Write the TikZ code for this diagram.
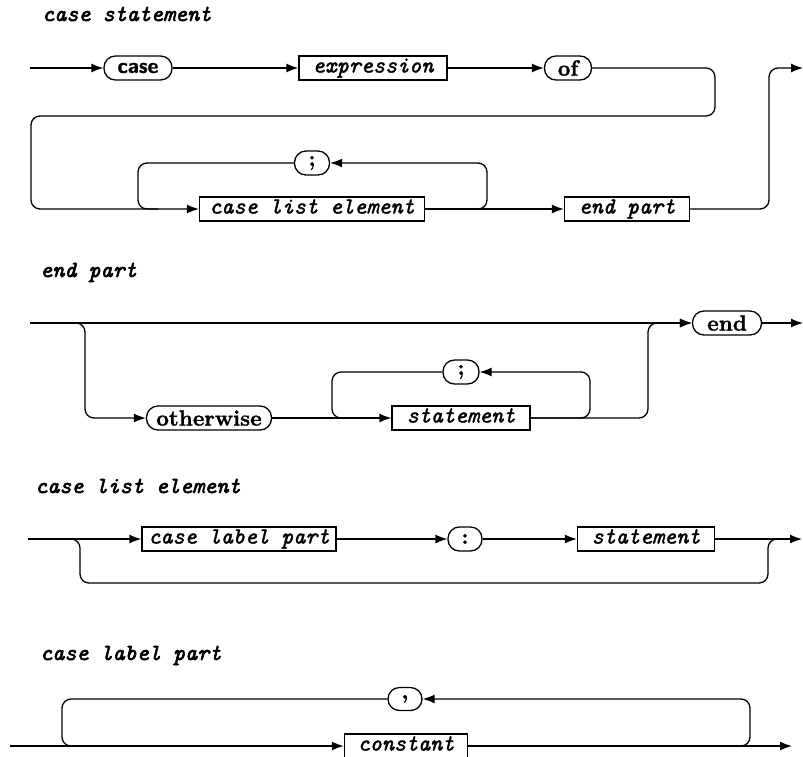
\documentclass[tikz,border=0pt]{standalone}
\usepackage{fontspec}
\usetikzlibrary{arrows.meta}
\newfontfamily\catfont{lmmono10-italic.otf}[FakeBold=1.6]
\newfontfamily\titfont{lmmono10-italic.otf}[FakeBold=2.6]
\newfontfamily\kwfont{lmroman10-bold.otf}[FakeBold=1.2]
\newfontfamily\kwsans{lmsans10-bold.otf}[FakeBold=1.2]

\begin{document}
\begin{tikzpicture}[x=1pt, y=-1pt,
  wire/.style={line width=1.3pt, rounded corners=9pt},
  freccia/.style={-{Latex[length=12pt,width=9pt]}},
  titolo/.style={anchor=base west, inner sep=0pt, font=\titfont\fontsize{23}{23}\selectfont},
  simbolo/.style={draw, line width=1.3pt, rounded corners=11.5pt, minimum height=24pt,
    inner xsep=2pt, inner ysep=0pt, font=\kwfont\fontsize{22}{22}\selectfont},
  categoria/.style={draw, line width=1.3pt, rectangle, minimum height=24pt, inner xsep=3pt,
    inner ysep=0pt, text height=13pt, text depth=4pt, font=\catfont\fontsize{23}{23}\selectfont}]
\useasboundingbox (0,0) rectangle (803,756);

% case statement
\node[titolo] (t1) at (42,21) {case statement};
\coordinate (s1) at (30,68);
\coordinate (e1) at (803,68);
\node[simbolo, minimum width=68pt, font=\kwsans\fontsize{21}{21}\selectfont] (case) at (138,68) {case};
\node[categoria, minimum width=148pt] (expr) at (373,68) {expression};
\node[simbolo, minimum width=47pt] (of) at (568,68) {of};
\node[categoria, minimum width=225pt] (cle) at (312,209) {case list element};
\node[simbolo, minimum width=35pt] (pv1) at (312,163) {;};
\node[categoria, minimum width=125pt] (ep) at (627,209) {end part};
\coordinate (r1) at (715,116);
\coordinate (l1) at (31,116);
\coordinate (a1) at (487,163);
\coordinate (b1) at (138,209);
\coordinate (u1) at (769,68);

\draw[wire,freccia] (s1) -- (case);
\draw[wire,freccia] (case) -- (expr);
\draw[wire,freccia] (expr) -- (of);
\draw[wire,freccia] (of.east) -| (r1) -- (l1) |- (cle.west);
\draw[wire,freccia] (cle) -- (ep);
\draw[wire,freccia] (cle.east) -| (a1) -- (pv1.east);
\draw[wire] (pv1.west) -| (b1) -- ++(20,0);
\draw[wire,freccia] (ep.east) -| (u1) -- (e1);

% end part
\node[titolo] (t2) at (40,277) {end part};
\coordinate (s2) at (30,323);
\coordinate (e2) at (803,323);
\node[simbolo, minimum width=69pt] (fine) at (727,323) {end};
\node[simbolo, minimum width=125pt] (altr) at (209,418) {otherwise};
\node[categoria, minimum width=138pt] (istr) at (461,418) {statement};
\node[simbolo, minimum width=36pt] (pv2) at (461,372) {;};
\coordinate (d2) at (85,418);
\coordinate (u2) at (648,323);
\coordinate (a2) at (590,372);
\coordinate (b2) at (332,418);

\draw[wire,freccia] (s2) -- (fine);
\draw[wire,freccia] (s2) -| (d2) -- (altr);
\draw[wire,freccia] (altr) -- (istr);
\draw[wire,freccia] (istr.east) -| (u2) -- (fine.west);
\draw[wire,freccia] (istr.east) -| (a2) -- (pv2.east);
\draw[wire] (pv2.west) -| (b2) -- ++(20,0);
\draw[wire,freccia] (fine) -- (e2);

% case list element
\node[titolo] (t3) at (35,493) {case list element};
\coordinate (s3) at (28,539);
\coordinate (e3) at (802,539);
\node[categoria, minimum width=194pt] (clp) at (239,539) {case label part};
\node[simbolo, minimum width=34pt] (dp) at (465,539) {:};
\node[categoria, minimum width=137pt] (istr3) at (646,539) {statement};
\coordinate (d3) at (80,583);
\coordinate (u3) at (768,539);

\draw[wire,freccia] (s3) -- (clp);
\draw[wire,freccia] (clp) -- (dp);
\draw[wire,freccia] (dp) -- (istr3);
\draw[wire,freccia] (istr3) -- (e3);
\draw[wire] (s3) -| (d3) -| (u3) -- ++(15,0);

% case label part
\node[titolo] (t4) at (40,660) {case label part};
\coordinate (s4) at (10,746);
\coordinate (e4) at (792,746);
\node[categoria, minimum width=123pt] (cost) at (406,746) {constant};
\node[simbolo, minimum width=34pt, minimum height=23pt] (vg) at (405,699) {,};
\coordinate (a4) at (750,699);
\coordinate (b4) at (62,746);

\draw[wire,freccia] (s4) -- (cost);
\draw[wire,freccia] (cost) -- (e4);
\draw[wire,freccia] (cost.east) -| (a4) -- (vg.east);
\draw[wire] (vg.west) -| (b4) -- ++(20,0);
\end{tikzpicture}
\end{document}
